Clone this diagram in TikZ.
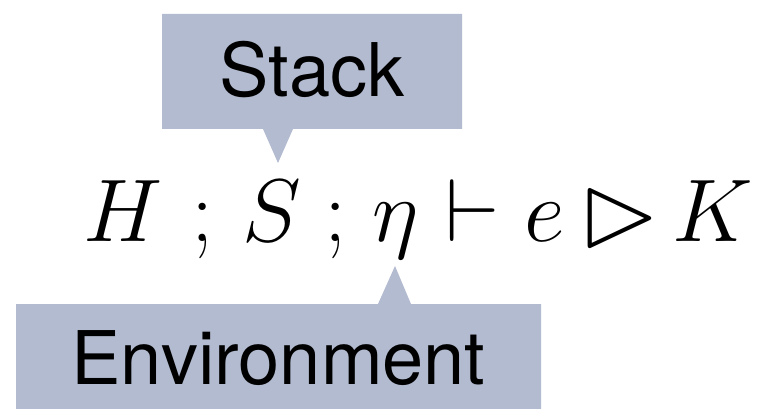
\RequirePackage{fix-cm}
\documentclass[tikz,border=0pt]{standalone}
\usepackage{amssymb}
\usepackage{fontspec}
\newfontfamily\labelfont{TeX Gyre Heros}
\definecolor{calloutfill}{RGB}{179,187,208}
\tikzset{
  callout/.style={fill=calloutfill, draw=none},
  labeltext/.style={inner sep=0pt, anchor=base, font=\labelfont\fontsize{74}{80}\selectfont},
  sym/.style={inner sep=0pt, anchor=base, font=\fontsize{89}{100}\selectfont}
}
\begin{document}
\begin{tikzpicture}[x=1pt, y=-1pt]
  \useasboundingbox (0,0) rectangle (761,409);
  % callout backgrounds: box plus pointer
  \fill[callout] (162,14) -- (462,14) -- (462,129) -- (293,129) -- (278,163) -- (263,129) -- (162,129) -- cycle;
  \fill[callout] (16,304) -- (378,304) -- (395,266) -- (411,304) -- (541,304) -- (541,409) -- (16,409) -- cycle;
  % labels
  \node[labeltext] (stack) at (312,97) {Stack};
  \node[labeltext] (env) at (278.5,384) {Environment};
  % judgement H ; S ; eta |- e |> K, one symbol per node
  \node[sym] (heap)  at (123,241) {$H$};
  \node[sym] (semi1) at (203,241) {$;$};
  \node[sym] (stk)   at (272,241) {$S$};
  \node[sym] (semi2) at (336,241) {$;$};
  \node[sym] (eta)   at (396,241) {$\eta$};
  \node[sym] (turn)  at (472.5,241) {$\vdash$};
  \node[sym] (expr)  at (545,241) {$e$};
  \node[sym, font=\fontsize{104}{110}\selectfont] (tri) at (620,244) {$\vartriangleright$};
  \node[sym] (cont)  at (713,241) {$K$};
\end{tikzpicture}
\end{document}
